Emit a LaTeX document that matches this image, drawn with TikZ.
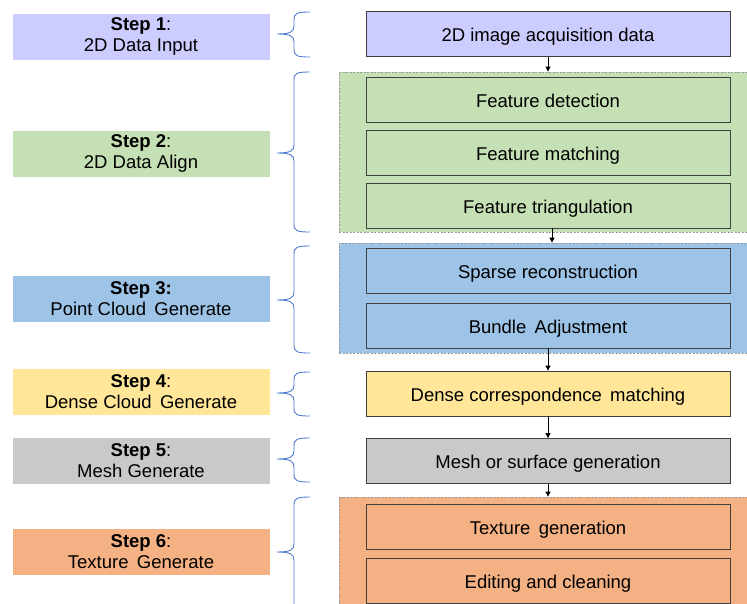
\documentclass[tikz,border=0pt]{standalone}
\usepackage{fontspec}
\setmainfont{Liberation Sans}
\usetikzlibrary{arrows.meta}

\definecolor{inputC}{HTML}{CCCCFF}
\definecolor{alignC}{HTML}{C5E0B4}
\definecolor{cloudC}{HTML}{9DC3E6}
\definecolor{denseC}{HTML}{FFE699}
\definecolor{meshC}{HTML}{C9C9C9}
\definecolor{textureC}{HTML}{F4B183}
\definecolor{boxline}{HTML}{404040}
\definecolor{groupline}{HTML}{9A9A9A}
\definecolor{braceblue}{HTML}{4F7BD0}

% slightly wider word gap
\newcommand\wgap{\hspace{0.45em}}

\tikzset{
  stepbox/.style={fill=#1, draw=white, line width=0.8pt, minimum width=258pt,
    minimum height=47pt, inner sep=0pt, align=center,
    font=\fontsize{18.5}{21}\selectfont},
  taskbox/.style={fill=#1, draw=boxline, line width=0.8pt, minimum width=364pt,
    minimum height=45pt, inner sep=0pt, text height=19pt, text depth=4pt,
    font=\fontsize{18.5}{21}\selectfont},
  groupbox/.style={fill=#1, draw=groupline, dash pattern=on 2pt off 1.5pt,
    line width=0.8pt, minimum width=411pt, inner sep=0pt},
  flow/.style={-{Triangle[length=5pt,width=5pt]}, line width=0.8pt, draw=black},
  bracepath/.style={draw=braceblue, line width=0.9pt}
}

% curly brace between a step label and its tasks: top, tip and bottom y
\newcommand\stepbrace[3]{%
  \draw[bracepath] (310,#1) .. controls (297,#1) and (294,{#1+1}) .. (294,{#1+8})
    -- (294,{#2-8}) .. controls (294,{#2-2}) and (290,#2) .. (277,#2)
    .. controls (290,#2) and (294,{#2+2}) .. (294,{#2+8})
    -- (294,{#3-8}) .. controls (294,{#3-1}) and (297,#3) .. (310,#3);}

\begin{document}
\begin{tikzpicture}[x=1pt, y=-1pt]
  \clip (0,0) rectangle (747,603);
  \fill[white] (0,0) rectangle (747,603);

  % step labels
  \node[stepbox=inputC]   (s1) at (141,36.5)  {\textbf{Step 1}:\\2D Data Input};
  \node[stepbox=alignC]   (s2) at (141,153.5) {\textbf{Step 2}:\\2D Data Align};
  \node[stepbox=cloudC]   (s3) at (141,299)   {\textbf{Step 3:}\\Point Cloud\wgap Generate};
  \node[stepbox=denseC]   (s4) at (141,391.5) {\textbf{Step 4}:\\Dense Cloud\wgap Generate};
  \node[stepbox=meshC]    (s5) at (141,460.5) {\textbf{Step 5}:\\Mesh Generate};
  \node[stepbox=textureC] (s6) at (141,552)   {\textbf{Step 6}:\\Texture\wgap Generate};

  % dashed group containers
  \node[groupbox=alignC,   minimum height=160pt] (gAlign)   at (544.5,152) {};
  \node[groupbox=cloudC,   minimum height=110pt] (gCloud)   at (544.5,298) {};
  \node[groupbox=textureC, minimum height=143pt] (gTexture) at (544.5,568.5) {};

  % task boxes
  \node[taskbox=inputC]   (acq)    at (548,34)    {2D image acquisition data};
  \node[taskbox=alignC]   (fdet)   at (548,100)   {Feature detection};
  \node[taskbox=alignC]   (fmat)   at (548,152.5) {Feature matching};
  \node[taskbox=alignC]   (ftri)   at (548,205.5) {Feature triangulation};
  \node[taskbox=cloudC]   (sparse) at (548,270.5) {Sparse reconstruction};
  \node[taskbox=cloudC]   (bundle) at (548,325.5) {Bundle\wgap Adjustment};
  \node[taskbox=denseC]   (dense)  at (548,393.5) {Dense correspondence\wgap matching};
  \node[taskbox=meshC]    (mesh)   at (548,461)   {Mesh or surface generation};
  \node[taskbox=textureC] (tex)    at (548,526.5) {Texture\wgap generation};
  \node[taskbox=textureC] (edit)   at (548,581)   {Editing and cleaning};

  % flow arrows
  \draw[flow] (acq.south) -- (acq.south |- gAlign.north);
  \draw[flow] ([xshift=4pt]ftri.south) -- ([xshift=4pt]ftri.south |- gCloud.north);
  \draw[flow] (bundle.south) -- (dense.north);
  \draw[flow] (dense.south) -- (mesh.north);
  \draw[flow] (mesh.south) -- (mesh.south |- gTexture.north);

  % braces
  \stepbrace{12}{34}{57}
  \stepbrace{72}{153}{232}
  \stepbrace{246}{300}{353}
  \stepbrace{372}{393}{416}
  \stepbrace{438}{459}{482}
  \stepbrace{497}{552}{640}
\end{tikzpicture}
\end{document}
